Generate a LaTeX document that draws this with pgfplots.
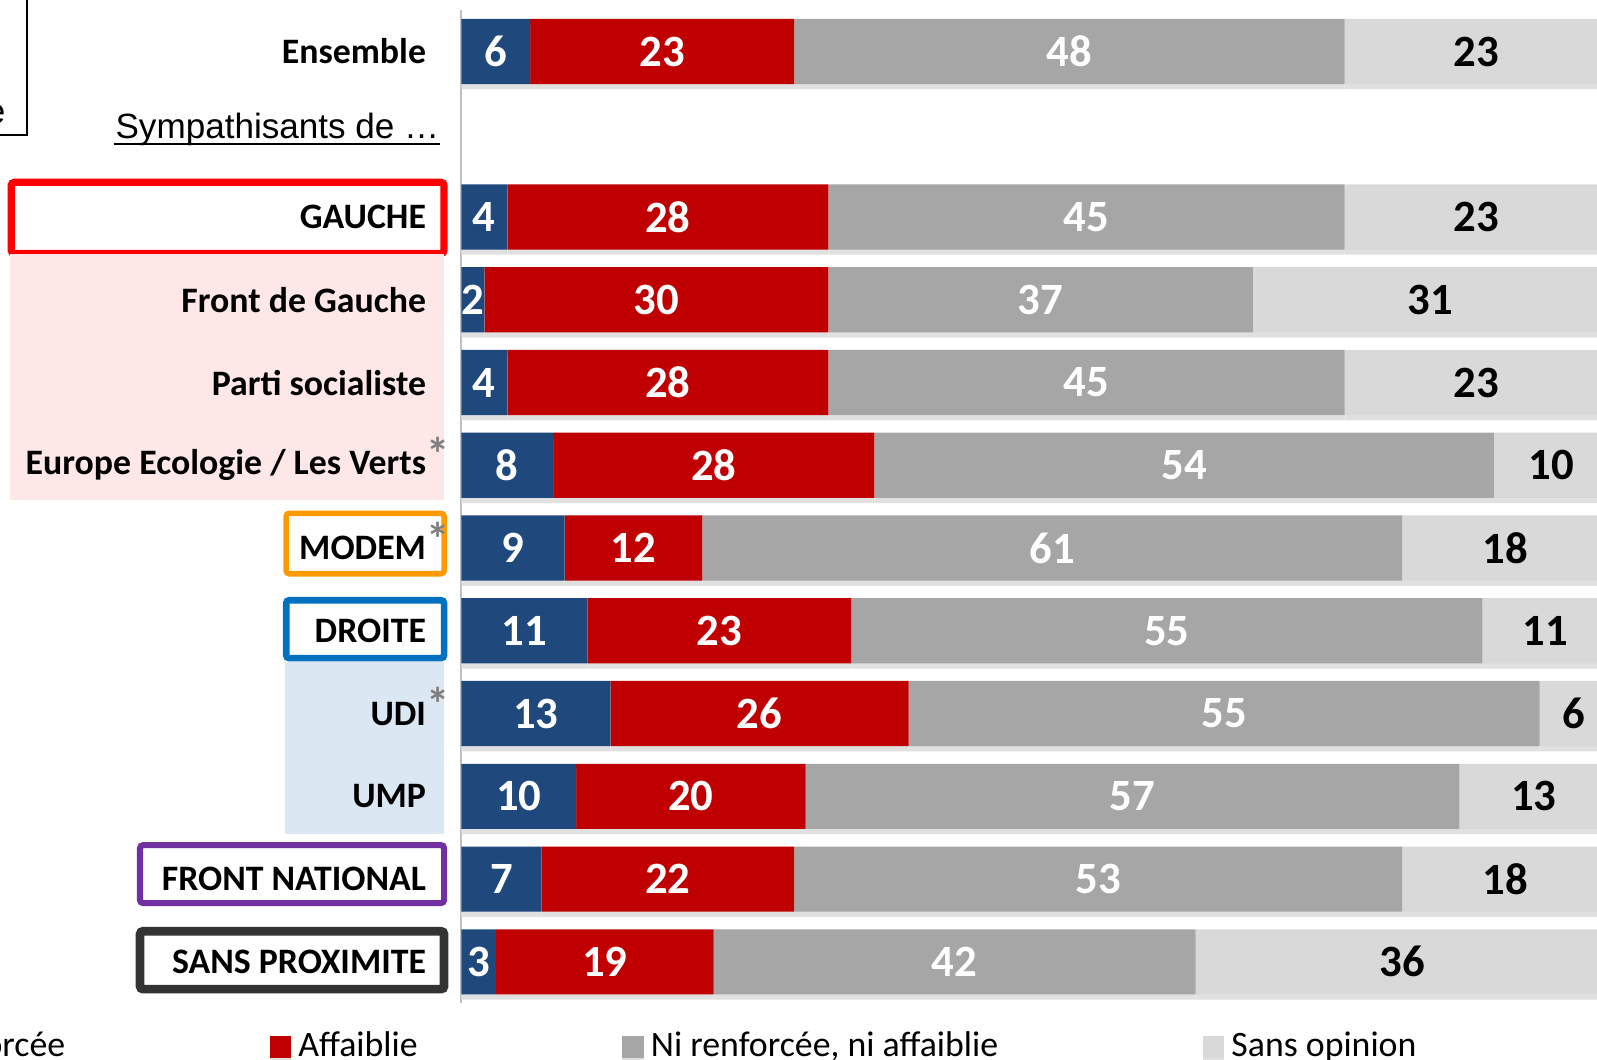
\documentclass[border=0pt]{standalone}
\usepackage{fontspec}
\setmainfont{Carlito}
\newfontfamily\arialfont{Liberation Sans}
\usepackage{pgfplots}
\usepackage{pgfplotstable}
\pgfplotsset{compat=1.18}

\definecolor{cRen}{HTML}{1F497D}
\definecolor{cAff}{HTML}{C00000}
\definecolor{cNi}{HTML}{A6A6A6}
\definecolor{cSo}{HTML}{D9D9D9}
\definecolor{cPink}{HTML}{FDE7E7}
\definecolor{cLblue}{HTML}{DBE8F3}
\definecolor{cRed}{HTML}{FF0000}
\definecolor{cOrange}{HTML}{FF9900}
\definecolor{cBlue}{HTML}{0070C0}
\definecolor{cPurple}{HTML}{7030A0}
\definecolor{cDark}{HTML}{333333}
\definecolor{cAxis}{HTML}{BFBFBF}
\definecolor{cStar}{HTML}{7F7F7F}

% rows: 0 = Ensemble, 1 = "Sympathisants de ..." (no bar), 2..11 = groups
\pgfplotstableread{
y  ren aff ni  so
0  6   23  48  23
2  4   28  45  23
3  2   30  37  31
4  4   28  45  23
5  8   28  54  10
6  9   12  61  18
7  11  23  55  11
8  13  26  55  6
9  10  20  57  13
10 7   22  53  18
11 3   19  42  36
}\data

\pgfplotsset{
  frame/.style={scale only axis, width=111.5mm, height=97.5mm,
    xmin=0, xmax=99, ymin=-0.5, ymax=11.5, y dir=reverse,
    axis lines=none, clip=false, at={(0,0)}, anchor=south west},
  legsq/.style={legend image code/.code={\fill[##1] (0mm,-1.05mm) rectangle (2.1mm,1.05mm);}},
  lab/.style={draw=none, mark=none, nodes near coords={\pgfplotspointmeta},
    point meta=explicit symbolic,
    every node near coord/.append style={anchor=center, text=#1,
      font=\bfseries\fontsize{12.5}{14}\selectfont}},
}
\tikzset{cat/.style={anchor=east, font=\bfseries\fontsize{10}{12}\selectfont, inner sep=0pt}}
\newcommand{\grstar}{\rlap{\smash{\raisebox{0.4mm}{\textcolor{cStar}{\fontsize{13}{13}\selectfont *}}}}}

\begin{document}
\begin{tikzpicture}
\path[use as bounding box] (-45.3mm,-5.5mm) rectangle (111.5mm,98.5mm);
\clip (-45.3mm,-5.5mm) rectangle (111.5mm,98.5mm);

\begin{axis}[frame, xbar stacked, bar width=6.4mm,
  legend columns=4,
  legend style={at={(0.848,-0.044)}, anchor=east, draw=none, fill=none,
    inner sep=0pt, font=\fontsize{10}{12}\selectfont,
    nodes={inner sep=0.7mm},
    /tikz/every even column/.append style={column sep=19.4mm}},
  every axis plot/.append style={draw=none,
    preaction={fill=black!12, transform canvas={yshift=-0.5mm}}}]
\addplot[fill=cRen, legsq] table[x=ren, y=y] {\data};
\addlegendentry{Renforcée}
\addplot[fill=cAff, legsq] table[x=aff, y=y] {\data};
\addlegendentry{Affaiblie}
\addplot[fill=cNi, legsq] table[x=ni, y=y] {\data};
\addlegendentry{Ni renforcée, ni affaiblie}
\addplot[fill=cSo, legsq] table[x=so, y=y] {\data};
\addlegendentry{Sans opinion}

% backgrounds and frames of the category labels
\fill[cPink] ([xshift=-44.3mm]axis cs:0,2.45) rectangle ([xshift=-1.7mm]axis cs:0,5.42);
\fill[cLblue] ([xshift=-17.3mm]axis cs:0,7.38) rectangle ([xshift=-1.7mm]axis cs:0,9.45);
\draw[cRed, line width=0.7mm, rounded corners=0.3mm] ([xshift=-44.2mm]axis cs:0,1.58) rectangle ([xshift=-1.7mm]axis cs:0,2.44);
\draw[cOrange, line width=0.55mm, rounded corners=0.3mm] ([xshift=-17.2mm]axis cs:0,5.58) rectangle ([xshift=-1.7mm]axis cs:0,6.31);
\draw[cBlue, line width=0.65mm, rounded corners=0.3mm] ([xshift=-17.2mm]axis cs:0,6.63) rectangle ([xshift=-1.7mm]axis cs:0,7.33);
\draw[cPurple, line width=0.6mm, rounded corners=0.3mm] ([xshift=-31.55mm]axis cs:0,9.59) rectangle ([xshift=-1.7mm]axis cs:0,10.29);
\draw[cDark, line width=0.85mm, rounded corners=0.3mm] ([xshift=-31.55mm]axis cs:0,10.63) rectangle ([xshift=-1.7mm]axis cs:0,11.33);
\draw[black, line width=0.15mm] ([xshift=-50mm]axis cs:0,1.008) -| ([xshift=-42.65mm]axis cs:0,-1);
\draw[cAxis, line width=0.2mm] (axis cs:0,-0.5) -- (axis cs:0,11.5);
\end{axis}

% value labels centred in each segment, and category labels
\begin{axis}[frame]
\addplot[lab=white] table[x expr=\thisrow{ren}/2, y=y, meta=ren] {\data};
\addplot[lab=white] table[x expr=\thisrow{ren}+\thisrow{aff}/2, y=y, meta=aff] {\data};
\addplot[lab=white] table[x expr=\thisrow{ren}+\thisrow{aff}+\thisrow{ni}/2, y=y, meta=ni] {\data};
\addplot[lab=black] table[x expr=100-\thisrow{so}/2, y=y, meta=so] {\data};

\node[anchor=base east, inner sep=0pt, font=\arialfont\fontsize{9.8}{11}\selectfont] at ([xshift=-44.7mm]axis cs:0,0.87) {e};
\node[cat] at ([xshift=-3.4mm]axis cs:0,0) {Ensemble};
\node[anchor=base east, inner sep=0pt, font=\arialfont\fontsize{9.8}{11}\selectfont] at ([xshift=-2.1mm]axis cs:0,1.045) {Sympathisants de …};
\draw[black, line width=0.2mm] ([xshift=-34.1mm, yshift=-0.55mm]axis cs:0,1.045) -- ([xshift=-2.1mm, yshift=-0.55mm]axis cs:0,1.045);
\node[cat] at ([xshift=-3.4mm]axis cs:0,2) {GAUCHE};
\node[cat] at ([xshift=-3.4mm]axis cs:0,3) {Front de Gauche};
\node[cat] at ([xshift=-3.4mm]axis cs:0,4) {Parti socialiste};
\node[cat] at ([xshift=-3.4mm]axis cs:0,5) {Europe Ecologie / Les Verts\grstar};
\node[cat] at ([xshift=-3.4mm]axis cs:0,6) {MODEM\grstar};
\node[cat] at ([xshift=-3.4mm]axis cs:0,7) {DROITE};
\node[cat] at ([xshift=-3.4mm]axis cs:0,8) {UDI\grstar};
\node[cat] at ([xshift=-3.4mm]axis cs:0,9) {UMP};
\node[cat] at ([xshift=-3.4mm]axis cs:0,10) {FRONT NATIONAL};
\node[cat] at ([xshift=-3.4mm]axis cs:0,11) {SANS PROXIMITE};
\end{axis}
\end{tikzpicture}
\end{document}
